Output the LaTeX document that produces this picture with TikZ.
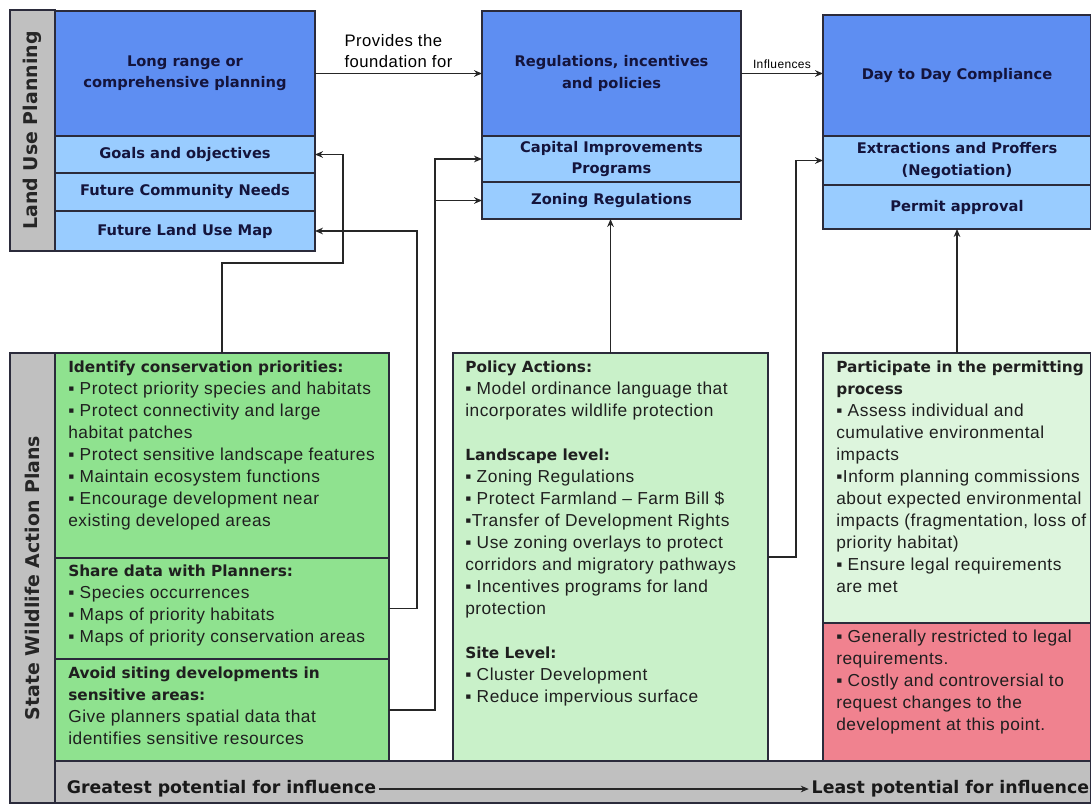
\documentclass[tikz,border=0pt]{standalone}
\usepackage{fontspec}
\setmainfont{Liberation Sans}[LetterSpace=3]
\newfontfamily\headfont{DejaVu Sans}
\usetikzlibrary{arrows.meta,positioning,calc}
\definecolor{luDeep}{HTML}{5E8EF2}
\definecolor{luPale}{HTML}{99CCFF}
\definecolor{luGrey}{HTML}{C0C0C0}
\definecolor{luNavy}{HTML}{14143C}
\definecolor{luEdge}{HTML}{2B2B3B}
\definecolor{swGreen}{HTML}{8FE28F}
\definecolor{swMint}{HTML}{C9F1C9}
\definecolor{swMintLt}{HTML}{DDF5DD}
\definecolor{swRose}{HTML}{F0828F}
\newcommand{\sechead}[1]{{\headfont\bfseries\fontsize{11.5}{16.5}\selectfont #1}}
\tikzset{
  sz/.style 2 args={minimum width=#1*0.75pt, minimum height=#2*0.75pt},
  cell/.style={draw=luEdge, line width=0.9pt, anchor=north west, inner sep=0pt, outer sep=0pt},
  topc/.style={cell, fill=luDeep, text=luNavy, align=center, font=\headfont\bfseries\fontsize{11}{16}\selectfont},
  rowc/.style={cell, fill=luPale, text=luNavy, align=center, font=\headfont\bfseries\fontsize{11}{16}\selectfont},
  sidebar/.style={cell, fill=luGrey},
  sidetxt/.style={rotate=90, text=black!85, font=\headfont\bfseries\fontsize{14.2}{16}\selectfont},
  body/.style={anchor=north west, inner sep=0pt, align=left, text=black!88, font=\fontsize{13}{16.5}\selectfont},
  bandtxt/.style={inner sep=2pt, text=black!90, font=\headfont\bfseries\fontsize{13}{16}\selectfont},
  arr/.style={-{Stealth[length=6pt,width=5pt]}, line width=0.9pt, draw=black!85},
}
\begin{document}
\begin{tikzpicture}[x=0.75pt,y=-0.75pt]
  \useasboundingbox (0,0) rectangle (1091,803);
  % land use planning
  \node[sidebar, sz={45}{241}] (lupbar) at (10,10) {};
  \node[sidetxt] (luptxt) at (lupbar.center) {Land Use Planning};
  \node[topc, sz={260}{125}] (longrange) at (55,11) {Long range or\\comprehensive planning};
  \node[rowc, sz={260}{37}] (goals) at (longrange.south west) {Goals and objectives};
  \node[rowc, sz={260}{38}] (needs) at (goals.south west) {Future Community Needs};
  \node[rowc, sz={260}{40}] (flum) at (needs.south west) {Future Land Use Map};
  \node[topc, sz={259}{125}] (regs) at (482,11) {Regulations, incentives\\and policies};
  \node[rowc, sz={259}{46}] (cip) at (regs.south west) {Capital Improvements\\Programs};
  \node[rowc, sz={259}{37}] (zoning) at (cip.south west) {Zoning Regulations};
  \node[topc, sz={268}{121}] (dtd) at (823,15) {Day to Day Compliance};
  \node[rowc, sz={268}{49}] (extract) at (dtd.south west) {Extractions and Proffers\\(Negotiation)};
  \node[rowc, sz={268}{44}] (permit) at (extract.south west) {Permit approval};
  \draw[arr] (longrange.east) -- node[above, align=left, inner sep=4pt, font=\fontsize{12.5}{16}\selectfont] (provlbl) {Provides the\\foundation for} (regs.west);
  \draw[arr] (regs.east) -- node[above, inner sep=3pt, font=\fontsize{9}{11}\selectfont] (inflbl) {Influences} (regs.east -| dtd.west);
  % state wildlife action plans
  \node[sidebar, sz={45}{450}] (swapbar) at (10,353) {};
  \node[cell, fill=luGrey, sz={1036}{42}] (band) at (55,761) {};
  \node[sidetxt] (swaptxt) at (swapbar.center) {State Wildlife Action Plans};
  \node[cell, fill=swGreen, sz={334}{205}] (identify) at (55,353) {};
  \node[cell, fill=swGreen, sz={334}{101}] (share) at (identify.south west) {};
  \node[cell, fill=swGreen, sz={334}{102}] (avoid) at (share.south west) {};
  \node[cell, fill=swMint, sz={315}{408}] (policy) at (453,353) {};
  \node[cell, fill=swMintLt, sz={268}{270}] (participate) at (823,353) {};
  \node[cell, fill=swRose, sz={268}{138}] (caveat) at (participate.south west) {};
  \node[body] (identifyT) at ([shift={(13,8)}]identify.north west) {\sechead{Identify conservation priorities:}\\
    ▪ Protect priority species and habitats\\
    ▪ Protect connectivity and large\\
    habitat patches\\
    ▪ Protect sensitive landscape features\\
    ▪ Maintain ecosystem functions\\
    ▪ Encourage development near\\
    existing developed areas};
  \node[body] (shareT) at ([shift={(13,7)}]share.north west) {\sechead{Share data with Planners:}\\
    ▪ Species occurrences\\
    ▪ Maps of priority habitats\\
    ▪ Maps of priority conservation areas};
  \node[body] (avoidT) at ([shift={(13,8)}]avoid.north west) {\sechead{Avoid siting developments in}\\
    \sechead{sensitive areas:}\\
    Give planners spatial data that\\
    identifies sensitive resources};
  \node[body] (policyT) at ([shift={(12,8)}]policy.north west) {\sechead{Policy Actions:}\\
    ▪ Model ordinance language that\\
    incorporates wildlife protection\\[16.5pt]
    \sechead{Landscape level:}\\
    ▪ Zoning Regulations\\
    ▪ Protect Farmland -- Farm Bill \$\\
    ▪Transfer of Development Rights\\
    ▪ Use zoning overlays to protect\\
    corridors and migratory pathways\\
    ▪ Incentives programs for land\\
    protection\\[16.5pt]
    \sechead{Site Level:}\\
    ▪ Cluster Development\\
    ▪ Reduce impervious surface};
  \node[body] (participateT) at ([shift={(13,8)}]participate.north west) {\sechead{Participate in the permitting}\\
    \sechead{process}\\
    ▪ Assess individual and\\
    cumulative environmental\\
    impacts\\
    ▪Inform planning commissions\\
    about expected environmental\\
    impacts (fragmentation, loss of\\
    priority habitat)\\
    ▪ Ensure legal requirements\\
    are met};
  \node[body] (caveatT) at ([shift={(13,7)}]caveat.north west) {▪ Generally restricted to legal\\
    requirements.\\
    ▪ Costly and controversial to\\
    request changes to the\\
    development at this point.};
  % connectors
  \coordinate (laneA) at (343,263);
  \draw[arr] (identify.north) |- (laneA) |- (goals.east);
  \draw[arr] (share.east) -- ++(28,0) |- (flum.east);
  \draw[arr] (avoid.east) -- ++(46,0) |- (cip.west);
  \draw[arr] (avoid.east) -- ++(46,0) |- (zoning.west);
  \draw[arr] (policy.north) -- (policy.north |- zoning.south);
  \draw[arr] (policy.east) -- ++(28,0) |- (extract.west);
  \draw[arr] (participate.north) -- (participate.north |- permit.south);
  % influence gradient
  \node[bandtxt, anchor=west] (greatest) at (64,789) {Greatest potential for influence};
  \node[bandtxt, anchor=east] (least) at (1092,789) {Least potential for influence};
  \draw[arr] (greatest) -- (least);
\end{tikzpicture}
\end{document}
